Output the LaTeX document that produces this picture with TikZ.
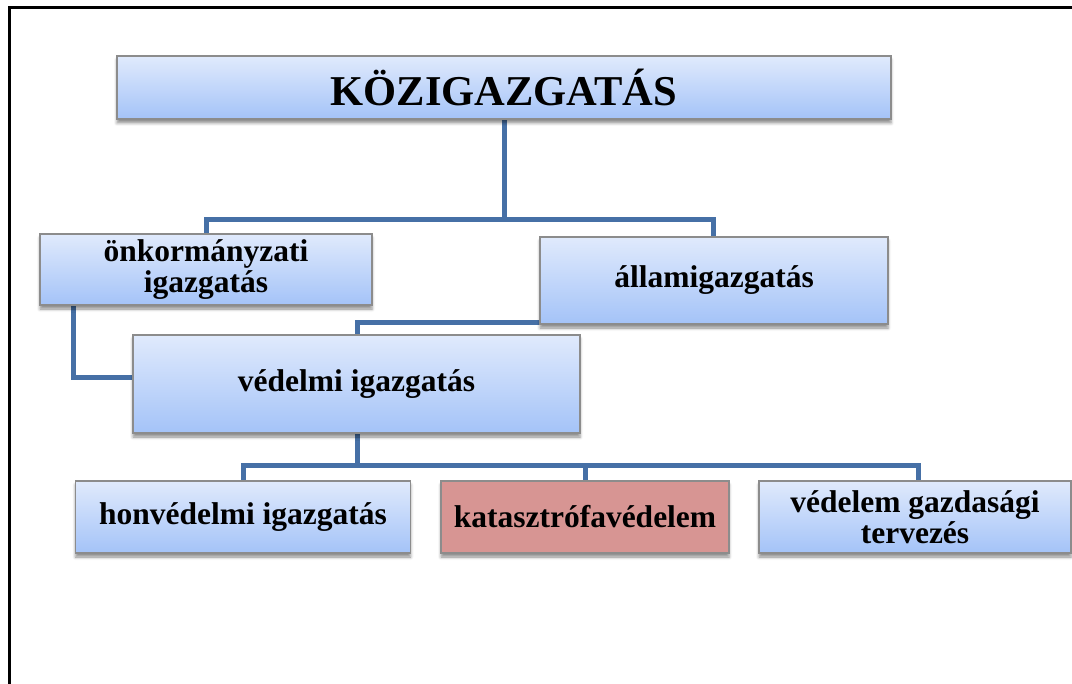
\documentclass[tikz,border=0pt]{standalone}
\usepackage{fontspec}
\setmainfont{Liberation Serif}
\usetikzlibrary{shadows.blur,backgrounds}
\definecolor{conn}{RGB}{70,112,166}
\definecolor{boxtop}{RGB}{224,234,252}
\definecolor{boxbot}{RGB}{164,195,248}
\definecolor{boxline}{RGB}{140,140,140}
\definecolor{pinkfill}{RGB}{215,149,147}
\tikzset{
  box/.style={draw=boxline, line width=1.5pt, top color=boxtop, bottom color=boxbot,
    align=center, font=\bfseries\fontsize{31.5}{31}\selectfont, inner sep=0pt,
    blur shadow={shadow xshift=0pt, shadow yshift=-4pt, shadow blur radius=3pt, shadow opacity=45}},
  pinkbox/.style={box, top color=pinkfill, bottom color=pinkfill},
  link/.style={draw=conn, line width=5pt}
}
\begin{document}
\begin{tikzpicture}[x=1pt,y=-1pt]
\useasboundingbox (0,0) rectangle (1072,684);
\draw[line width=3pt] (9,690) -- (9,8) -- (1075,8);
\coordinate (j1) at (504,220);
\coordinate (j2) at (357,466);
\node[box, minimum width=774pt, minimum height=63pt, font=\bfseries\fontsize{42.5}{44}\selectfont] (top) at (504,87.5) {KÖZIGAZGATÁS};
\node[box, minimum width=332pt, minimum height=71pt] (onk) at (206,269.5) {önkormányzati\\igazgatás};
\node[box, minimum width=348pt, minimum height=87pt] (all) at (714,280.5) {államigazgatás};
\node[box, minimum width=447pt, minimum height=98pt] (ved) at (356.5,384) {védelmi igazgatás};
\node[box, minimum width=335pt, minimum height=72pt] (hon) at (243,517) {honvédelmi igazgatás};
\node[pinkbox, minimum width=288pt, minimum height=72pt] (kat) at (585,517) {katasztrófavédelem};
\node[box, minimum width=312pt, minimum height=72pt] (gaz) at (915,517) {védelem gazdasági\\tervezés};
\begin{scope}[on background layer]
\draw[link] (top.south) -- (j1) -| (onk.north);
\draw[link] (j1) -| ([xshift=-1pt]all.north);
\draw[link] ([xshift=0.5pt]ved.north) |- ([yshift=2pt]all.south);
\draw[link] ([xshift=-133pt]onk.south) |- ([yshift=6pt]ved.west);
\draw[link] ([xshift=0.5pt]ved.south) -- (j2) -| (hon.north);
\draw[link] (j2) -| (kat.north);
\draw[link] (j2) -| ([xshift=3pt]gaz.north);
\end{scope}
\end{tikzpicture}
\end{document}
